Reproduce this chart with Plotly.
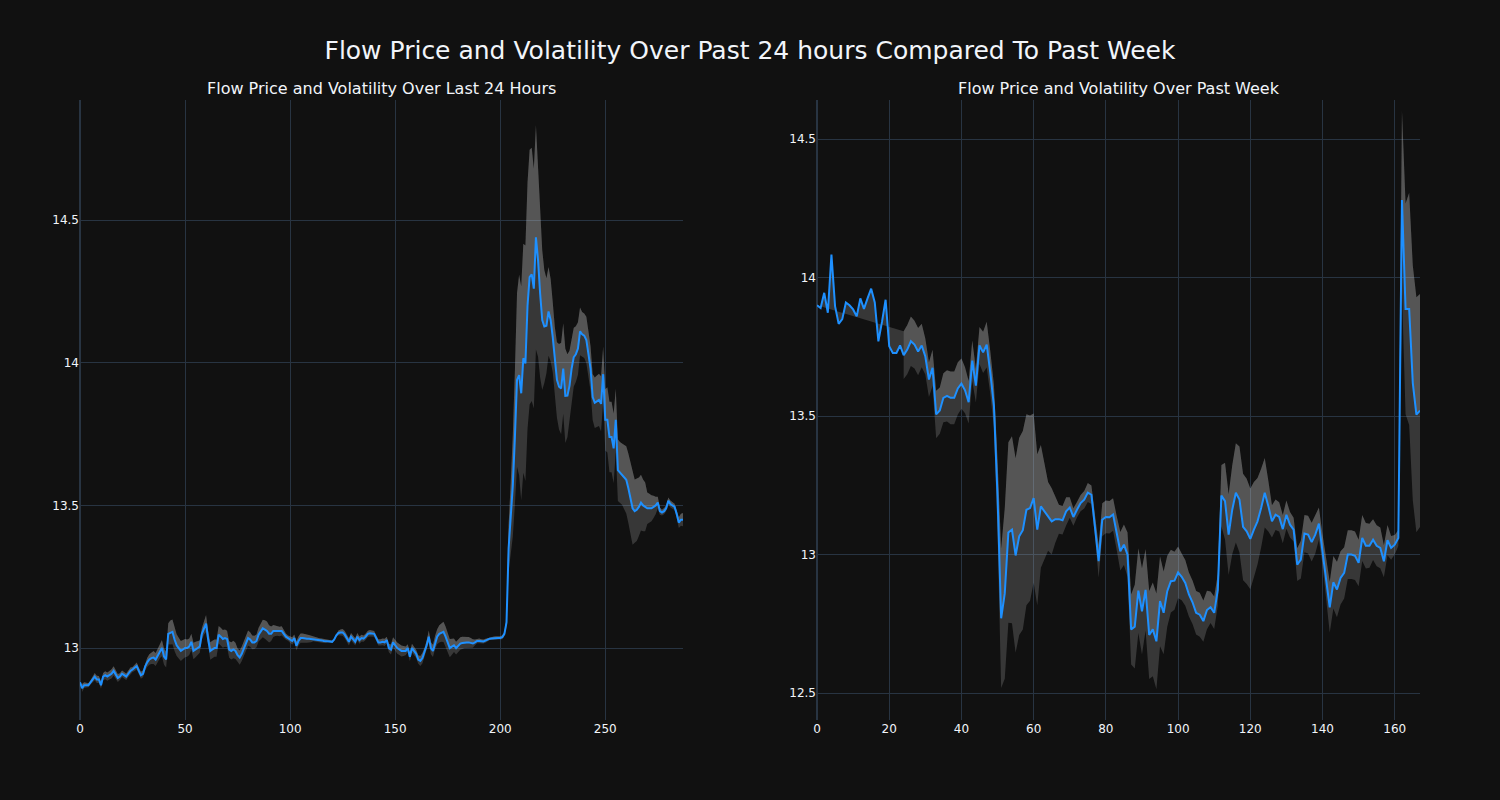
import pandas as pd
import plotly.graph_objects as go
from plotly.subplots import make_subplots

# ---- Data ----
day_price = [
    12.88, 12.86, 12.87, 12.87, 12.87, 12.88, 12.89, 12.90, 12.89, 12.89,
    12.87, 12.90, 12.905, 12.90, 12.905, 12.91, 12.92, 12.905, 12.895, 12.90,
    12.91, 12.905, 12.90, 12.91, 12.92, 12.925, 12.93, 12.937, 12.92, 12.905,
    12.91, 12.935, 12.95, 12.96, 12.965, 12.967, 12.96, 12.975, 12.99, 13.0,
    12.97, 12.96, 13.05, 13.055, 13.057, 13.03, 13.01, 13.0, 12.99, 12.995,
    13.0, 13.0, 13.005, 13.022, 12.99, 12.995, 13.0, 13.005, 13.05, 13.07,
    13.086, 13.03, 12.99, 12.995, 13.0, 13.0, 13.047, 13.04, 13.032, 13.035,
    13.032, 12.995, 12.99, 12.995, 12.99, 12.975, 12.967, 12.98, 13.0, 13.02,
    13.035, 13.03, 13.02, 13.02, 13.025, 13.047, 13.06, 13.069, 13.065, 13.06,
    13.05, 13.05, 13.06, 13.06, 13.06, 13.058, 13.06, 13.05, 13.04, 13.035,
    13.03, 13.025, 13.035, 13.008, 13.025, 13.035, 13.035, 13.033, 13.033, 13.033,
    13.032, 13.033, 13.03, 13.03, 13.028, 13.027, 13.025, 13.025, 13.024, 13.023,
    13.022, 13.03, 13.045, 13.053, 13.055, 13.055, 13.047, 13.035, 13.022, 13.04,
    13.03, 13.022, 13.04, 13.028, 13.035, 13.033, 13.04, 13.05, 13.052, 13.052,
    13.05, 13.035, 13.02, 13.02, 13.022, 13.02, 13.028, 13.0, 12.995, 13.02,
    13.01, 13.0, 12.995, 12.99, 12.99, 12.99, 13.0, 12.97, 13.0, 12.99,
    12.98, 12.96, 12.955, 12.965, 12.985, 13.01, 13.04, 13.0, 12.99, 13.02,
    13.04, 13.05, 13.055, 13.057, 13.04, 13.02, 13.0, 13.005, 13.01, 13.0,
    13.008, 13.016, 13.018, 13.02, 13.02, 13.02, 13.018, 13.016, 13.02, 13.025,
    13.025, 13.024, 13.023, 13.026, 13.03, 13.033, 13.034, 13.035, 13.035, 13.035,
    13.035, 13.038, 13.05, 13.09, 13.35, 13.45, 13.57, 13.74, 13.94, 13.957,
    13.893, 14.016, 13.998, 14.2, 14.30, 14.31, 14.26, 14.44, 14.36, 14.243,
    14.15, 14.127, 14.13, 14.18, 14.15, 14.09, 14.0, 13.94, 13.916, 13.91,
    13.98, 13.884, 13.885, 13.92, 13.98, 14.02, 14.03, 14.05, 14.11, 14.1,
    14.095, 14.08, 14.03, 13.98, 13.88, 13.86, 13.865, 13.87, 13.856, 13.96,
    13.80, 13.80, 13.74, 13.74, 13.70, 13.80, 13.624, 13.615, 13.61, 13.60,
    13.59, 13.56, 13.53, 13.49, 13.48, 13.485, 13.495, 13.51, 13.50, 13.495,
    13.49, 13.49, 13.49, 13.495, 13.50, 13.51, 13.48, 13.475, 13.48, 13.49,
    13.516, 13.505, 13.50, 13.495, 13.47, 13.44, 13.45, 13.45,
]

week_price = [
    13.90, 13.89, 13.945, 13.873, 14.083, 13.897, 13.833, 13.85, 13.91, 13.90,
    13.885, 13.86, 13.925, 13.887, 13.925, 13.96, 13.91, 13.77, 13.84, 13.92,
    13.752, 13.728, 13.728, 13.755, 13.72, 13.74, 13.77, 13.758, 13.733, 13.755,
    13.715, 13.632, 13.674, 13.506, 13.52, 13.566, 13.573, 13.566, 13.566, 13.6,
    13.617, 13.593, 13.55, 13.70, 13.61, 13.755, 13.73, 13.758, 13.656, 13.536,
    13.21, 12.77, 12.86, 13.08, 13.09, 12.997, 13.066, 13.088, 13.162, 13.168,
    13.204, 13.09, 13.174, 13.156, 13.138, 13.12, 13.128, 13.128, 13.124, 13.156,
    13.17, 13.136, 13.162, 13.186, 13.198, 13.224, 13.216, 13.103, 12.976, 13.126,
    13.136, 13.135, 13.145, 13.078, 13.012, 13.036, 13.0, 12.73, 12.74, 12.87,
    12.795, 12.873, 12.71, 12.73, 12.687, 12.832, 12.79, 12.868, 12.904, 12.906,
    12.936, 12.92, 12.898, 12.856, 12.828, 12.79, 12.783, 12.76, 12.80, 12.81,
    12.79, 12.873, 13.213, 13.193, 13.072, 13.162, 13.223, 13.199, 13.10, 13.084,
    13.057, 13.09, 13.12, 13.168, 13.223, 13.175, 13.12, 13.144, 13.136, 13.092,
    13.144, 13.108, 13.09, 12.964, 12.982, 13.076, 13.072, 13.045, 13.072, 13.112,
    13.018, 12.91, 12.81, 12.90, 12.874, 12.916, 12.934, 13.0, 13.0, 12.996,
    12.97, 13.06, 13.032, 13.032, 13.054, 13.032, 13.024, 12.976, 13.052, 13.024,
    13.036, 13.06, 14.28, 13.887, 13.887, 13.62, 13.505, 13.52,
]

VOL_WINDOW = 15          # rolling window for the volatility band
DAY_BAND_START = 1       # first index with a band value (24h chart)
WEEK_BAND_START = 24     # first index with a band value (weekly chart)

main_title = "Flow Price and Volatility Over Past 24 hours Compared To Past Week"
left_title = "Flow Price and Volatility Over Last 24 Hours"
right_title = "Flow Price and Volatility Over Past Week"

LINE_COLOR = "#1E90FF"
BAND_FILL = "rgba(198,198,198,0.21)"
FONT = "DejaVu Sans"


def band(prices, start):
    s = pd.Series(prices, dtype=float)
    sd = s.rolling(VOL_WINDOW, min_periods=2).std()
    idx = list(range(start, len(prices)))
    upper = [prices[i] + sd[i] for i in idx]
    lower = [prices[i] - sd[i] for i in idx]
    return idx, upper, lower


fig = make_subplots(rows=1, cols=2, subplot_titles=(left_title, right_title),
                    horizontal_spacing=0.1)


def add_panel(prices, start, col):
    bx, up, lo = band(prices, start)
    fig.add_trace(go.Scatter(x=bx, y=lo, mode="lines", line=dict(width=0),
                             hoverinfo="skip", showlegend=False), row=1, col=col)
    fig.add_trace(go.Scatter(x=bx, y=up, mode="lines", line=dict(width=0),
                             fill="tonexty", fillcolor=BAND_FILL,
                             hoverinfo="skip", showlegend=False), row=1, col=col)
    fig.add_trace(go.Scatter(x=list(range(len(prices))), y=prices, mode="lines",
                             line=dict(color=LINE_COLOR, width=2),
                             fill="tonexty", fillcolor=BAND_FILL,
                             showlegend=False), row=1, col=col)


add_panel(day_price, DAY_BAND_START, 1)
add_panel(week_price, WEEK_BAND_START, 2)

fig.update_layout(
    template="plotly_dark",
    width=1500, height=800,
    font=dict(family=FONT),
    title=dict(text=main_title, x=0.5, y=0.9375, yanchor="middle",
               font=dict(size=25, family=FONT)),
    showlegend=False,
    margin=dict(l=80, r=80, t=100, b=80),
)
fig.update_annotations(font=dict(family=FONT, size=16))
fig.update_xaxes(range=[0, len(day_price) - 1], row=1, col=1)
fig.update_xaxes(range=[0, len(week_price) - 1], row=1, col=2)
fig.update_yaxes(range=[12.748, 14.921], row=1, col=1)
fig.update_yaxes(range=[12.403, 14.641], row=1, col=2)

fig.write_html(
    "out.html",
    config={"displayModeBar": False},
    post_script="document.body.style.margin='0';"
                "document.body.style.background='#111111';"
                "document.body.style.overflow='hidden';",
)
